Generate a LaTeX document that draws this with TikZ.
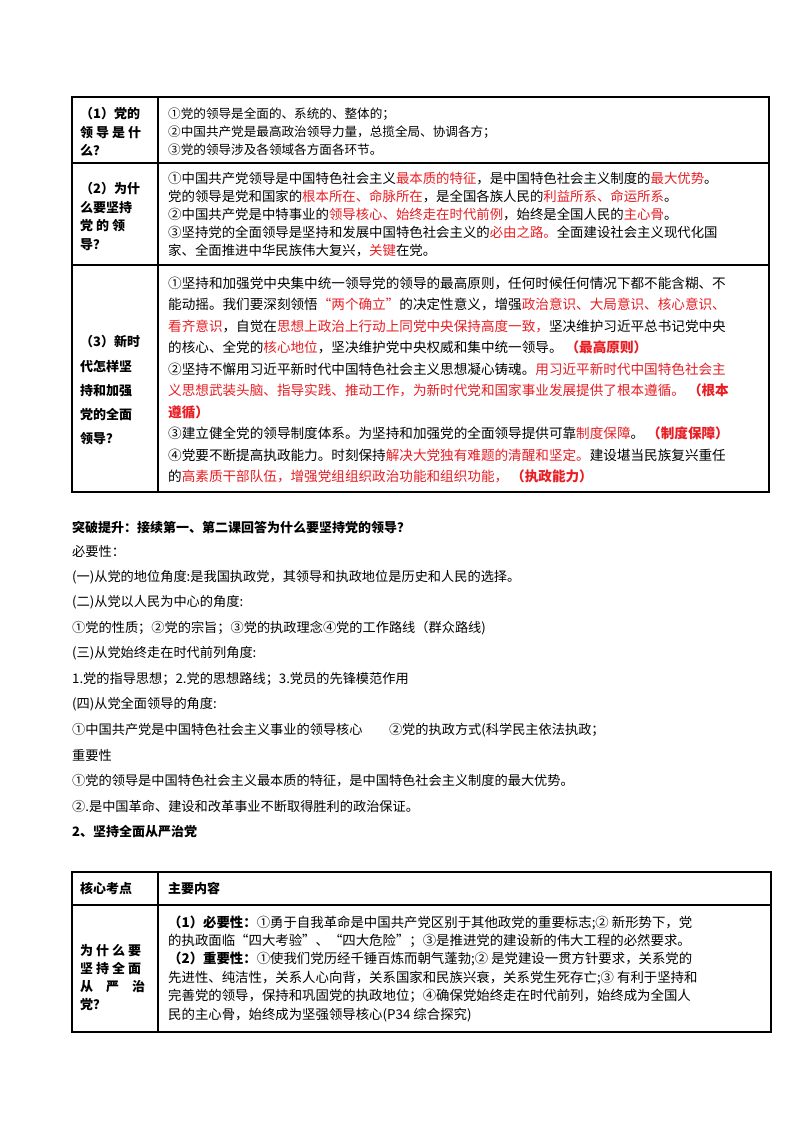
\documentclass[tikz,border=0pt]{standalone}
\usepackage{fontspec}
\setmainfont{Noto Sans CJK SC}
\definecolor{hl}{RGB}{232,30,36}
\newcommand{\R}[1]{\textcolor{hl}{#1}}
\begin{document}
\begin{tikzpicture}[x=1pt,y=-1pt,
  tl/.style={anchor=base west,inner sep=0pt,font=\fontsize{13.2}{14}\selectfont},
  tr/.style={anchor=base west,inner sep=0pt,font=\fontsize{12.6}{14}\selectfont},
  tb/.style={anchor=base west,inner sep=0pt,font=\fontsize{13.6}{15}\selectfont},
  tc/.style={anchor=base west,inner sep=0pt,font=\fontsize{13.4}{15}\selectfont},
  hd/.style={anchor=base west,inner sep=0pt,font=\fontsize{13}{15}\selectfont\bfseries},
  rule/.style={line width=1.1pt}]
\useasboundingbox (0,0) rectangle (800,1132);
\fill[white] (0,0) rectangle (800,1132);
% table 1
\draw[rule] (72,97) rectangle (769,492);
\draw[rule] (158,97) -- (158,492);
\draw[rule] (72,163) -- (769,163);
\draw[rule] (72,265) -- (769,265);
\node[hd] (a1) at (80,118) {（1）党的};
\node[hd] (a2) at (80,137) {领 导 是 什};
\node[hd] (a3) at (80,155) {么？};
\node[tr] (b1) at (168,118) {①党的领导是全面的、系统的、整体的；};
\node[tr] (b2) at (168,136) {②中国共产党是最高政治领导力量，总揽全局、协调各方；};
\node[tr] (b3) at (168,154) {③党的领导涉及各领域各方面各环节。};
\node[hd] (c1) at (80,193) {（2）为什};
\node[hd] (c2) at (80,212) {么要坚持};
\node[hd] (c3) at (80,230) {党 的 领};
\node[hd] (c4) at (80,249) {导？};
\node[tc] (d1) at (168,183) {①中国共产党领导是中国特色社会主义\R{最本质的特征}，是中国特色社会主义制度的\R{最大优势}。};
\node[tc] (d2) at (168,201) {党的领导是党和国家的\R{根本所在、命脉所在}，是全国各族人民的\R{利益所系、命运所系}。};
\node[tc] (d3) at (168,219) {②中国共产党是中特事业的\R{领导核心、始终走在时代前例}，始终是全国人民的\R{主心骨}。};
\node[tc] (d4) at (168,237) {③坚持党的全面领导是坚持和发展中国特色社会主义的\R{必由之路。}全面建设社会主义现代化国};
\node[tc] (d5) at (168,255) {家、全面推进中华民族伟大复兴，\R{关键}在党。};
\node[hd] (e1) at (80,346) {（3）新时};
\node[hd] (e2) at (80,371) {代怎样坚};
\node[hd] (e3) at (80,395) {持和加强};
\node[hd] (e4) at (80,419) {党的全面};
\node[hd] (e5) at (80,443) {领导？};
\node[tb] (f1) at (168,288) {①坚持和加强党中央集中统一领导党的领导的最高原则，任何时候任何情况下都不能含糊、不};
\node[tb] (f2) at (168,309.5) {能动摇。我们要深刻领悟\R{“两个确立”}的决定性意义，增强\R{政治意识、大局意识、核心意识、}};
\node[tb] (f3) at (168,331) {\R{看齐意识}，自觉在\R{思想上政治上行动上同党中央保持高度一致，}坚决维护习近平总书记党中央};
\node[tb] (f4) at (168,352.5) {的核心、全党的\R{核心地位}，坚决维护党中央权威和集中统一领导。 \R{\bfseries（最高原则）}};
\node[tb] (f5) at (168,374) {②坚持不懈用习近平新时代中国特色社会主义思想凝心铸魂。\R{用习近平新时代中国特色社会主}};
\node[tb] (f6) at (168,395.5) {\R{义思想武装头脑、指导实践、推动工作，为新时代党和国家事业发展提供了根本遵循。 \bfseries（根本}};
\node[tb] (f7) at (168,417) {\R{\bfseries 遵循）}};
\node[tb] (f8) at (168,438.5) {③建立健全党的领导制度体系。为坚持和加强党的全面领导提供可靠\R{制度保障}。 \R{\bfseries（制度保障）}};
\node[tb] (f9) at (168,460) {④党要不断提高执政能力。时刻保持\R{解决大党独有难题的清醒和坚定。}建设堪当民族复兴重任};
\node[tb] (f10) at (168,481.5) {的\R{高素质干部队伍，增强党组组织政治功能和组织功能， \bfseries（执政能力）}};
% middle text
\node[hd] (m0) at (72,532) {突破提升：接续第一、第二课回答为什么要坚持党的领导？};
\node[tl] (m1) at (72,556) {必要性：};
\node[tl] (m2) at (72,581) {(一)从党的地位角度:是我国执政党，其领导和执政地位是历史和人民的选择。};
\node[tl] (m3) at (72,606) {(二)从党以人民为中心的角度:};
\node[tl] (m4) at (72,632) {①党的性质；②党的宗旨；③党的执政理念④党的工作路线（群众路线)};
\node[tl] (m5) at (72,657) {(三)从党始终走在时代前列角度:};
\node[tl] (m6) at (72,683) {1.党的指导思想；2.党的思想路线；3.党员的先锋模范作用};
\node[tl] (m7) at (72,708) {(四)从党全面领导的角度:};
\node[tl] (m8) at (72,734) {①中国共产党是中国特色社会主义事业的领导核心\hspace{2em}②党的执政方式(科学民主依法执政；};
\node[tl] (m9) at (72,760) {重要性};
\node[tl] (m10) at (72,785) {①党的领导是中国特色社会主义最本质的特征，是中国特色社会主义制度的最大优势。};
\node[tl] (m11) at (72,811) {②.是中国革命、建设和改革事业不断取得胜利的政治保证。};
\node[hd] (m12) at (72,836) {2、坚持全面从严治党};
% table 2
\draw[rule] (72,872) rectangle (771,1032);
\draw[rule] (158,872) -- (158,1032);
\draw[rule] (72,905) -- (771,905);
\node[hd] (h1) at (80,893) {核心考点};
\node[hd] (h2) at (168,893) {主要内容};
\node[hd] (g1) at (80,955) {为 什 么 要};
\node[hd] (g2) at (80,973) {坚 持 全 面};
\node[hd] (g3) at (80,991) {从\hspace{1em}严\hspace{1em}治};
\node[hd] (g4) at (80,1009) {党？};
\node[tc] (k1) at (168,927) {{\bfseries（1）必要性：}①勇于自我革命是中国共产党区别于其他政党的重要标志;② 新形势下，党};
\node[tc] (k2) at (168,945) {的执政面临“四大考验”、“四大危险”；③是推进党的建设新的伟大工程的必然要求。};
\node[tc] (k3) at (168,963) {{\bfseries（2）重要性：}①使我们党历经千锤百炼而朝气蓬勃;② 是党建设一贯方针要求，关系党的};
\node[tc] (k4) at (168,982) {先进性、纯洁性，关系人心向背，关系国家和民族兴衰，关系党生死存亡;③ 有利于坚持和};
\node[tc] (k5) at (168,1000) {完善党的领导，保持和巩固党的执政地位；④确保党始终走在时代前列，始终成为全国人};
\node[tc] (k6) at (168,1019) {民的主心骨，始终成为坚强领导核心(P34 综合探究)};
\end{tikzpicture}
\end{document}
